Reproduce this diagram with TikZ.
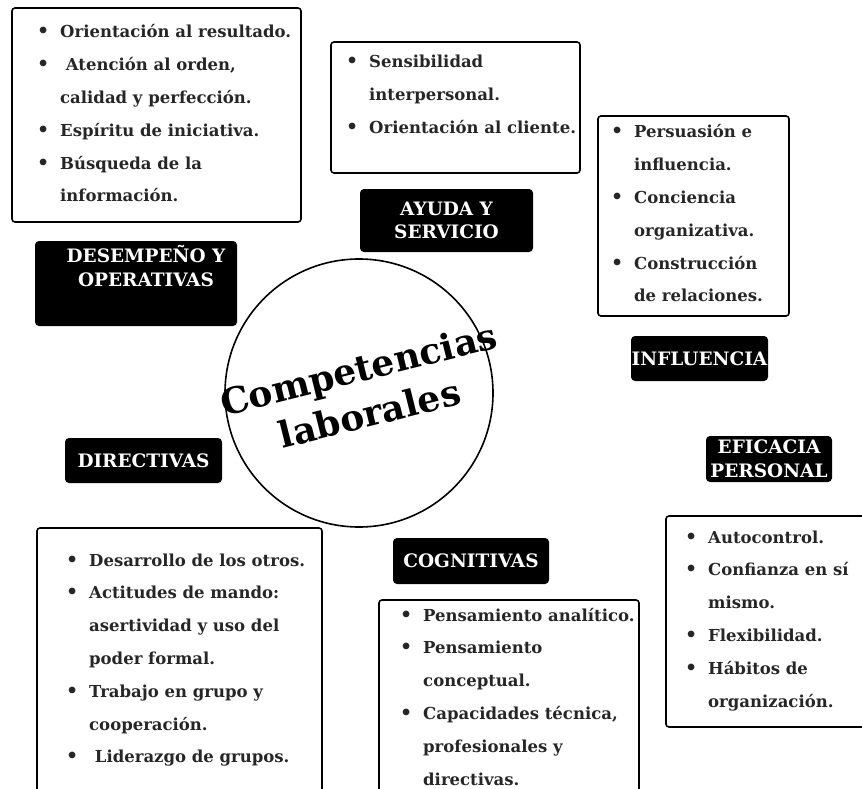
\documentclass[tikz,border=0pt]{standalone}
\usepackage{fontspec}
\setmainfont{DejaVu Serif}
\usetikzlibrary{positioning}
\newcommand\itemfont{\fontsize{16.5}{32.8}\selectfont\bfseries}
\newcommand\tagfont{\fontsize{18.5}{23.5}\selectfont\bfseries}
\newcommand\hubfont{\fontsize{36}{46}\selectfont\bfseries}
\newcommand\itemdot{\makebox[23pt][l]{\fontsize{19}{19}\selectfont\textbullet}}

\begin{document}
\begin{tikzpicture}[x=1pt, y=-1pt,
  card/.style={rectangle, draw=black, line width=1.6pt, rounded corners=3pt, inner sep=0pt},
  items/.style={anchor=base west, inner sep=0pt, font=\itemfont, text=black!85},
  tag/.style={rectangle, fill=black, text=white, rounded corners=4pt, inner sep=0pt,
              font=\tagfont, align=center},
  hub/.style={circle, draw=black, line width=1.6pt, minimum size=268pt, inner sep=0pt},
  hubtext/.style={font=\hubfont, align=center, inner sep=0pt}]
  \useasboundingbox (0,0) rectangle (862,789);
  \node[card, minimum width=289, minimum height=214] (desCard) at (156.5,115) {};
  \node[card, minimum width=249, minimum height=131] (ayuCard) at (455.5,107.5) {};
  \node[card, minimum width=191, minimum height=200] (infCard) at (693.5,216) {};
  \node[card, minimum width=285, minimum height=272] (dirCard) at (179.5,664) {};
  \node[card, minimum width=260, minimum height=200] (cogCard) at (509,700) {};
  \node[card, minimum width=209, minimum height=211] (efiCard) at (770.5,621.5) {};
  \node[tag, minimum width=202, text height=45, text depth=40,
        below=18pt of desCard, xshift=-20.5pt] (desTag) {\hspace*{20pt}DESEMPEÑO Y\\\hspace*{20pt}OPERATIVAS};
  \node[tag, minimum width=173, minimum height=63, below=15pt of ayuCard, xshift=-9pt] (ayuTag) {AYUDA Y\\SERVICIO};
  \node[tag, minimum width=137, minimum height=45, below=19pt of infCard, xshift=6pt] (infTag) {INFLUENCIA};
  \node[tag, minimum width=157, minimum height=45] (dirTag) at (143.5,460.5) {DIRECTIVAS};
  \node[tag, minimum width=156, minimum height=46] (cogTag) at (471,561) {COGNITIVAS};
  \node[tag, minimum width=126, minimum height=46, above=33pt of efiCard, xshift=-1.5pt] (efiTag) {EFICACIA\\PERSONAL};
  \node[hub] (hub) at (359,393) {};
  \node[hubtext, rotate=14] (hubText) at (364,391) {Competencias\\laborales};
  \node[items] (desList) at (37,38) {\begin{tabular}[t]{@{}l@{}l@{}}
    \itemdot & Orientación al resultado.\\
    \itemdot & \ Atención al orden,\\
             & calidad y perfección.\\
    \itemdot & Espíritu de iniciativa.\\
    \itemdot & Búsqueda de la\\
             & información.\end{tabular}};
  \node[items] (ayuList) at (346,68) {\begin{tabular}[t]{@{}l@{}l@{}}
    \itemdot & Sensibilidad\\
             & interpersonal.\\
    \itemdot & Orientación al cliente.\end{tabular}};
  \node[items] (infList) at (611,138) {\begin{tabular}[t]{@{}l@{}l@{}}
    \itemdot & Persuasión e\\
             & influencia.\\
    \itemdot & Conciencia\\
             & organizativa.\\
    \itemdot & Construcción\\
             & de relaciones.\end{tabular}};
  \node[items] (dirList) at (66,566) {\begin{tabular}[t]{@{}l@{}l@{}}
    \itemdot & Desarrollo de los otros.\\
    \itemdot & Actitudes de mando:\\
             & asertividad y uso del\\
             & poder formal.\\
    \itemdot & Trabajo en grupo y\\
             & cooperación.\\
    \itemdot & \ Liderazgo de grupos.\end{tabular}};
  \node[items] (cogList) at (400,621) {\begin{tabular}[t]{@{}l@{}l@{}}
    \itemdot & Pensamiento analítico.\\
    \itemdot & Pensamiento\\
             & conceptual.\\
    \itemdot & Capacidades técnica,\\
             & profesionales y\\
             & directivas.\end{tabular}};
  \node[items] (efiList) at (685,543) {\begin{tabular}[t]{@{}l@{}l@{}}
    \itemdot & Autocontrol.\\
    \itemdot & Confianza en sí\\
             & mismo.\\
    \itemdot & Flexibilidad.\\
    \itemdot & Hábitos de\\
             & organización.\end{tabular}};
\end{tikzpicture}
\end{document}
